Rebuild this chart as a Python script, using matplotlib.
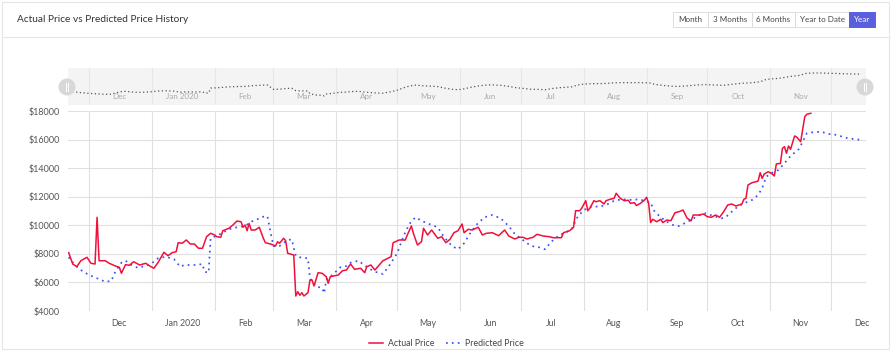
import matplotlib
matplotlib.use("Agg")
import matplotlib.pyplot as plt
import matplotlib.dates as mdates
from matplotlib.patches import Rectangle, Ellipse
from matplotlib.lines import Line2D
import pandas as pd

plt.rcParams['font.family'] = ['Lato', 'DejaVu Sans']

# actual price
actual_dates = [
    "2019-11-21", "2019-11-23", "2019-11-25", "2019-11-27", "2019-11-30", "2019-12-02", "2019-12-04",
    "2019-12-05", "2019-12-06", "2019-12-09", "2019-12-11", "2019-12-14", "2019-12-16", "2019-12-17",
    "2019-12-19", "2019-12-21", "2019-12-23", "2019-12-26", "2019-12-29", "2019-12-31", "2020-01-02",
    "2020-01-04", "2020-01-07", "2020-01-09", "2020-01-11", "2020-01-13", "2020-01-14", "2020-01-16",
    "2020-01-18", "2020-01-20", "2020-01-22", "2020-01-24", "2020-01-26", "2020-01-28", "2020-01-30",
    "2020-02-01", "2020-02-02", "2020-02-04", "2020-02-05", "2020-02-08", "2020-02-10", "2020-02-12",
    "2020-02-14", "2020-02-15", "2020-02-16", "2020-02-17", "2020-02-18", "2020-02-19", "2020-02-21",
    "2020-02-23", "2020-02-25", "2020-02-26", "2020-02-29", "2020-03-02", "2020-03-03", "2020-03-04",
    "2020-03-06", "2020-03-07", "2020-03-08", "2020-03-11", "2020-03-12", "2020-03-13", "2020-03-14",
    "2020-03-15", "2020-03-16", "2020-03-18", "2020-03-19", "2020-03-20", "2020-03-21", "2020-03-23",
    "2020-03-25", "2020-03-27", "2020-03-28", "2020-03-29", "2020-04-02", "2020-04-04", "2020-04-06",
    "2020-04-08", "2020-04-10", "2020-04-13", "2020-04-15", "2020-04-16", "2020-04-18", "2020-04-20",
    "2020-04-24", "2020-04-28", "2020-04-29", "2020-05-02", "2020-05-05", "2020-05-06", "2020-05-08",
    "2020-05-09", "2020-05-11", "2020-05-13", "2020-05-14", "2020-05-16", "2020-05-18", "2020-05-21",
    "2020-05-23", "2020-05-25", "2020-05-27", "2020-05-29", "2020-05-31", "2020-06-02", "2020-06-03",
    "2020-06-05", "2020-06-07", "2020-06-10", "2020-06-12", "2020-06-14", "2020-06-17", "2020-06-20",
    "2020-06-23", "2020-06-25", "2020-06-28", "2020-06-30", "2020-07-02", "2020-07-04", "2020-07-07",
    "2020-07-09", "2020-07-12", "2020-07-15", "2020-07-17", "2020-07-21", "2020-07-22", "2020-07-25",
    "2020-07-27", "2020-07-28", "2020-07-30", "2020-07-31", "2020-08-02", "2020-08-03", "2020-08-04",
    "2020-08-06", "2020-08-07", "2020-08-09", "2020-08-11", "2020-08-12", "2020-08-14", "2020-08-16",
    "2020-08-17", "2020-08-19", "2020-08-21", "2020-08-23", "2020-08-24", "2020-08-26", "2020-08-27",
    "2020-08-29", "2020-08-31", "2020-09-01", "2020-09-02", "2020-09-03", "2020-09-04", "2020-09-06",
    "2020-09-08", "2020-09-09", "2020-09-11", "2020-09-13", "2020-09-15", "2020-09-17", "2020-09-19",
    "2020-09-21", "2020-09-23", "2020-09-24", "2020-09-27", "2020-09-29", "2020-10-01", "2020-10-03",
    "2020-10-05", "2020-10-07", "2020-10-09", "2020-10-11", "2020-10-13", "2020-10-15", "2020-10-18",
    "2020-10-19", "2020-10-20", "2020-10-21", "2020-10-23", "2020-10-25", "2020-10-26", "2020-10-27",
    "2020-10-28", "2020-10-29", "2020-10-31", "2020-11-02", "2020-11-03", "2020-11-04", "2020-11-06",
    "2020-11-07", "2020-11-08", "2020-11-09", "2020-11-10", "2020-11-11", "2020-11-13", "2020-11-14",
    "2020-11-16", "2020-11-17", "2020-11-18", "2020-11-19", "2020-11-21",
]
actual_price = [
    8080, 7290, 7100, 7520, 7760, 7340, 7290,
    10560, 7520, 7520, 7340, 7150, 7060, 6640,
    7240, 7200, 7450, 7220, 7340, 7150, 6990,
    7380, 8110, 7870, 8080, 8150, 8780, 8740,
    8970, 8690, 8690, 8390, 8390, 9200, 9440,
    9320, 9200, 9160, 9620, 9790, 10020, 10300,
    10250, 9860, 10020, 9620, 10130, 9670, 9670,
    9860, 9090, 8780, 8670, 8550, 8850, 8740,
    9090, 8920, 8040, 7920, 5050, 5350, 5100,
    5280, 5050, 5280, 6170, 6170, 5750, 6680,
    6640, 6400, 5940, 6400, 6520, 6820, 6870,
    7290, 6920, 6990, 6680, 7100, 7220, 6870,
    7520, 7800, 8780, 8970, 8970, 9320, 9950,
    9440, 8620, 8850, 9790, 9320, 9670, 9090,
    9200, 8780, 9010, 9480, 9620, 10090, 9480,
    9720, 9670, 9860, 9320, 9440, 9480, 9270,
    9670, 9250, 9040, 9160, 9160, 9040, 9160,
    9370, 9250, 9200, 9130, 9130, 9480, 9620,
    9860, 11020, 11020, 11190, 11720, 11020, 11190,
    11720, 11650, 11720, 11490, 11720, 11820, 11890,
    12240, 11890, 11720, 11750, 11540, 11580, 11380,
    11540, 11770, 11960, 11540, 10190, 10420, 10250,
    10420, 10190, 10370, 10320, 10880, 10950, 11070,
    10490, 10320, 10720, 10720, 10790, 10600, 10560,
    10720, 10560, 10950, 11420, 11490, 11350, 11490,
    11820, 11890, 12820, 12980, 13050, 13100, 13680,
    13290, 13590, 13750, 13590, 13450, 14290, 14330,
    15390, 15500, 15040, 15550, 15320, 16250, 16180,
    15850, 16720, 17600, 17770, 17840,
]

# predicted price
pred_dates = [
    "2019-11-21", "2019-11-24", "2019-11-27", "2019-12-01", "2019-12-05", "2019-12-09", "2019-12-12",
    "2019-12-14", "2019-12-17", "2019-12-19", "2019-12-22", "2019-12-25", "2019-12-29", "2020-01-01",
    "2020-01-04", "2020-01-08", "2020-01-12", "2020-01-15", "2020-01-17", "2020-01-23", "2020-01-26",
    "2020-01-27", "2020-01-29", "2020-01-30", "2020-02-02", "2020-02-05", "2020-02-08", "2020-02-12",
    "2020-02-16", "2020-02-19", "2020-02-22", "2020-02-25", "2020-02-27", "2020-02-29", "2020-03-01",
    "2020-03-04", "2020-03-08", "2020-03-10", "2020-03-12", "2020-03-14", "2020-03-18", "2020-03-19",
    "2020-03-22", "2020-03-25", "2020-03-26", "2020-03-27", "2020-03-30", "2020-04-03", "2020-04-06",
    "2020-04-08", "2020-04-12", "2020-04-14", "2020-04-17", "2020-04-20", "2020-04-24", "2020-04-27",
    "2020-05-01", "2020-05-04", "2020-05-07", "2020-05-10", "2020-05-14", "2020-05-18", "2020-05-21",
    "2020-05-24", "2020-05-28", "2020-05-31", "2020-06-03", "2020-06-06", "2020-06-09", "2020-06-13",
    "2020-06-17", "2020-06-21", "2020-06-25", "2020-06-28", "2020-07-02", "2020-07-06", "2020-07-10",
    "2020-07-13", "2020-07-16", "2020-07-20", "2020-07-23", "2020-07-26", "2020-07-29", "2020-08-01",
    "2020-08-05", "2020-08-09", "2020-08-12", "2020-08-16", "2020-08-20", "2020-08-25", "2020-08-28",
    "2020-08-31", "2020-09-03", "2020-09-05", "2020-09-08", "2020-09-11", "2020-09-14", "2020-09-17",
    "2020-09-19", "2020-09-23", "2020-09-26", "2020-09-30", "2020-10-04", "2020-10-08", "2020-10-10",
    "2020-10-13", "2020-10-16", "2020-10-19", "2020-10-23", "2020-10-26", "2020-10-28", "2020-10-30",
    "2020-11-02", "2020-11-05", "2020-11-08", "2020-11-11", "2020-11-15", "2020-11-17", "2020-11-19",
    "2020-11-22", "2020-11-26", "2020-11-30", "2020-12-04", "2020-12-08", "2020-12-12", "2020-12-16",
]
pred_price = [
    7760, 7220, 6870, 6520, 6290, 6050, 6100,
    6750, 7380, 7520, 7220, 7030, 7150, 7340,
    7690, 7800, 7620, 7100, 7220, 7220, 7290,
    6750, 6680, 9090, 9270, 9480, 9720, 9860,
    9950, 10250, 10420, 10600, 10640, 9200, 8550,
    8550, 8970, 9010, 7850, 7760, 7690, 6290,
    5700, 5630, 5240, 6170, 6520, 7060, 7150,
    7380, 7520, 7290, 6990, 6750, 6590, 7150,
    8040, 9200, 10090, 10560, 10250, 10020, 9860,
    9200, 8550, 8320, 8740, 9440, 10020, 10560,
    10720, 10490, 9950, 9390, 8970, 8550, 8460,
    8320, 8850, 9320, 9480, 9720, 10600, 11070,
    11310, 11310, 11420, 11720, 11820, 11770, 11820,
    11720, 11580, 10950, 10560, 10250, 10020, 9950,
    10090, 10370, 10650, 10840, 10650, 10490, 10560,
    10950, 11310, 11540, 11770, 12120, 12600, 13400,
    13680, 13870, 14340, 14850, 15320, 15850, 16440,
    16510, 16550, 16390, 16320, 16130, 16040, 15970,
]

month_labels = ["Dec", "Jan 2020", "Feb", "Mar", "Apr", "May", "Jun",
                "Jul", "Aug", "Sep", "Oct", "Nov", "Dec"]
scroll_labels = ["Dec", "Jan 2020", "Feb", "Mar", "Apr", "May", "Jun",
                 "Jul", "Aug", "Sep", "Oct", "Nov"]
y_ticks = [4000, 6000, 8000, 10000, 12000, 14000, 16000, 18000]
buttons = ["Month", "3 Months", "6 Months", "Year to Date", "Year"]

actual_dates = pd.to_datetime(actual_dates)
pred_dates = pd.to_datetime(pred_dates)
month_starts = pd.date_range("2019-12-01", "2020-12-01", freq="MS")
label_pos = month_starts + pd.Timedelta(days=15)
x_lo = pd.Timestamp("2019-11-20 16:00")
x_hi = pd.Timestamp("2020-12-18 05:00")

W, H = 892, 351
fig = plt.figure(figsize=(W / 100, H / 100), dpi=100)
fig.patch.set_facecolor("white")

def fx(px):
    return px / W

def fy(py):
    return 1 - py / H

# card border, header line
fig.add_artist(Rectangle((fx(2), fy(349)), fx(887), 347 / H, fill=False,
                         edgecolor="#e6e6e6", lw=0.8, transform=fig.transFigure))
fig.add_artist(Line2D([fx(2), fx(889)], [fy(37), fy(37)], color="#e6e6e6", lw=0.8,
                      transform=fig.transFigure))
fig.text(fx(17), fy(19), "Actual Price vs Predicted Price History", fontsize=7.3,
         color="#333333", va="center", ha="left")

# range buttons
btn_edges = [673, 708, 752, 795, 849, 875]
for i, name in enumerate(buttons):
    x0, x1 = btn_edges[i], btn_edges[i + 1]
    sel = name == "Year"
    fig.add_artist(Rectangle((fx(x0), fy(27)), fx(x1 - x0), 15 / H,
                             facecolor="#5a5fdd" if sel else "white",
                             edgecolor="#5a5fdd" if sel else "#dddddd", lw=0.7,
                             transform=fig.transFigure))
    fig.text(fx((x0 + x1) / 2), fy(19.5), name, fontsize=5.8, ha="center", va="center",
             color="white" if sel else "#444444")

# main chart
ax = fig.add_axes([fx(68), fy(311), fx(866 - 68), 200 / H])
ax.plot(actual_dates, actual_price, color="#f0103c", lw=1.1, label="Actual Price", zorder=3)
ax.plot(pred_dates, pred_price, color="#3d4df7", lw=1.25, ls=(0, (1, 2.4)),
        label="Predicted Price", zorder=2)
ax.set_xlim(x_lo, x_hi)
ax.set_ylim(4000, 18000)
ax.set_yticks(y_ticks)
ax.set_yticklabels(["$" + str(v) for v in y_ticks])
ax.set_xticks(month_starts)
ax.set_xticklabels([])
ax.set_xticks(label_pos, minor=True)
ax.set_xticklabels(month_labels, minor=True)
ax.tick_params(axis="x", which="both", length=0, pad=6, labelsize=6.3, colors="#555555")
ax.tick_params(axis="y", length=0, pad=6, labelsize=6.5, colors="#555555")
ax.grid(True, which="major", color="#e0e0e0", lw=0.8)
for s in ax.spines.values():
    s.set_visible(False)

leg = fig.legend(loc="center", bbox_to_anchor=(0.5, fy(344)), ncol=2, frameon=False,
                 fontsize=6.3, handlelength=1.7, columnspacing=1.3, handletextpad=0.5)
for t in leg.get_texts():
    t.set_color("#444444")

# scrollbar
sax = fig.add_axes([fx(68), fy(105), fx(866 - 68), 37 / H])
sax.set_facecolor("#f4f4f4")
sax.plot(pred_dates, pred_price, color="#555555", lw=0.9, ls=(0, (1, 2)))
sax.set_xlim(x_lo, x_hi)
sax.set_ylim(800, 19000)
sax.set_xticks(month_starts)
sax.set_xticklabels([])
sax.set_yticks([])
sax.grid(True, axis="x", color="#e6e6e6", lw=0.8)
sax.tick_params(length=0)
for s in sax.spines.values():
    s.set_visible(False)
for d, lab in zip(label_pos, scroll_labels):
    sax.text(d, 0.22, lab, transform=sax.get_xaxis_transform(), fontsize=5.8,
             color="#aaaaaa", ha="center", va="center")

for gx in [67, 865]:
    fig.add_artist(Ellipse((fx(gx), fy(87)), 17 / W, 17 / H, facecolor="#d8d8d8",
                           edgecolor="none", transform=fig.transFigure, zorder=5))
    for dx in [-1.2, 1.2]:
        fig.add_artist(Line2D([fx(gx + dx), fx(gx + dx)], [fy(83), fy(91)], color="white",
                              lw=0.7, transform=fig.transFigure, zorder=6))

fig.savefig("out.png", dpi=100)
